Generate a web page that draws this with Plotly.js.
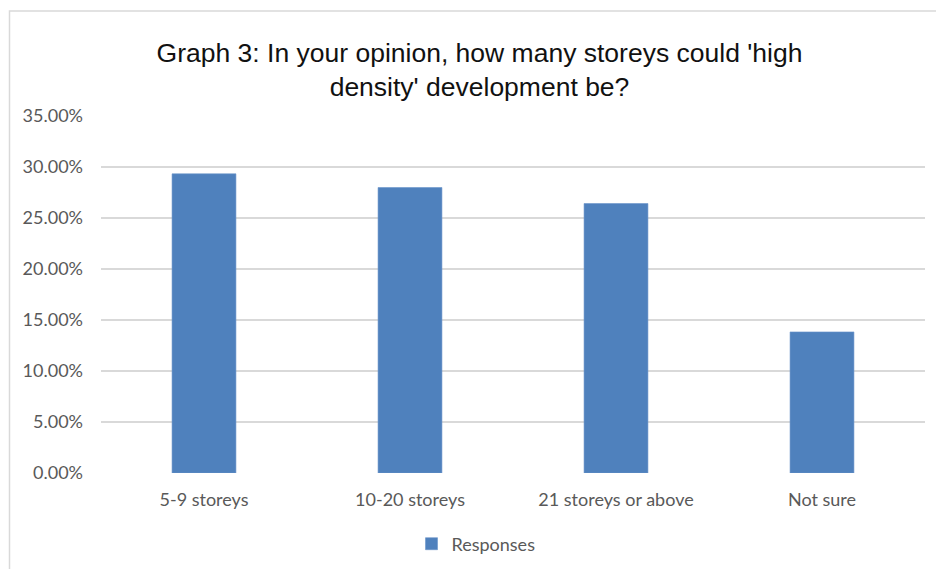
<!DOCTYPE html>
<html>
<head>
<meta charset="utf-8">
<script src="https://cdn.plot.ly/plotly-3.0.1.min.js"></script>
<style>
  html, body { margin: 0; padding: 0; background: #ffffff; }
  #chart { width: 936px; height: 569px; }
</style>
</head>
<body>
<div id="chart"></div>
<script>
// Survey answers: share of responses per building height option
const categories = ['5-9 storeys', '10-20 storeys', '21 storeys or above', 'Not sure'];
const responses = [0.2933, 0.2799, 0.2642, 0.1383];
const seriesName = 'Responses';
const yTicks = [0, 0.05, 0.10, 0.15, 0.20, 0.25, 0.30, 0.35];

const W = 936, H = 569;
const margin = { l: 101, r: 11, t: 116, b: 96 };
const plotW = W - margin.l - margin.r;
const plotH = H - margin.t - margin.b;
// pixel -> paper helpers for the outer frame
const px = x => (x - margin.l) / plotW;
const py = y => (H - margin.b - y) / plotH;

const labelFont = { family: 'Lato, "Open Sans", sans-serif', size: 18, color: '#595959' };

const trace = {
  type: 'bar',
  x: categories,
  y: responses,
  name: seriesName,
  marker: { color: '#4f81bd', line: { color: '#6a94c9', width: 0.6 } },
  showlegend: true,
  hoverinfo: 'x+y'
};

const layout = {
  width: W,
  height: H,
  margin: margin,
  paper_bgcolor: '#ffffff',
  plot_bgcolor: '#ffffff',
  bargap: 0.69,
  title: {
    text: "Graph 3: In your opinion, how many storeys could 'high<br>density' development be?",
    font: { family: '"Liberation Sans", Arial, sans-serif', size: 26.5, color: '#111111' },
    xref: 'container',
    x: 479.5 / W,
    xanchor: 'center',
    yref: 'container',
    y: 1 - 62 / H,
    yanchor: 'top'
  },
  xaxis: {
    type: 'category',
    tickfont: labelFont,
    showgrid: false,
    zeroline: false,
    showline: false,
    ticks: '',
    ticklabelstandoff: 14
  },
  yaxis: {
    range: [0, 0.35],
    tickvals: yTicks,
    tickformat: '.2%',
    tickfont: labelFont,
    showgrid: true,
    gridcolor: '#d9d9d9',
    gridwidth: 1.5,
    zeroline: false,
    showline: false,
    ticks: '',
    ticklabelstandoff: 17
  },
  legend: {
    orientation: 'h',
    xref: 'container',
    x: 476 / W,
    xanchor: 'center',
    yref: 'container',
    y: 1 - 544 / H,
    yanchor: 'middle',
    font: labelFont,
    itemwidth: 30
  },
  shapes: [{
    type: 'rect',
    xref: 'paper',
    yref: 'paper',
    x0: px(9.5),
    x1: px(W + 10),
    y0: py(H + 10),
    y1: py(11),
    line: { color: '#d9d9d9', width: 1.5 },
    fillcolor: 'rgba(0,0,0,0)',
    layer: 'below'
  }]
};

Plotly.newPlot('chart', [trace], layout, { displayModeBar: false, staticPlot: true });
</script>
</body>
</html>
